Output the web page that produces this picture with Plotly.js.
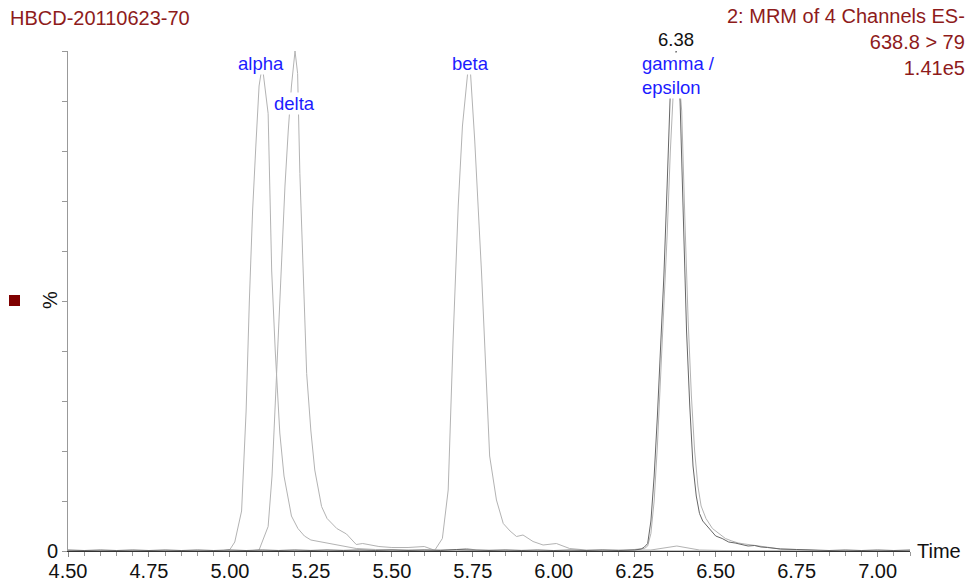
<!DOCTYPE html>
<html>
<head>
<meta charset="utf-8">
<script src="https://cdn.plot.ly/plotly-3.0.1.min.js"></script>
<style>html,body{margin:0;padding:0;background:#fff;}#chart{width:974px;height:581px;}</style>
</head>
<body>
<div id="chart"></div>
<script>
// ---- data (retention time in min, relative intensity in %) ----
var sampleTime = [4.50,4.55,4.60,4.65,4.70,4.75,4.80,4.85,4.90,4.95,5.00,5.05,5.10,5.15,5.20,5.25,5.30,5.35,5.40,5.45,5.50,5.55,5.60,5.65,5.70,5.75,5.80,5.85,5.90,5.95,6.00,6.05,6.10,6.15,6.20,6.25,6.27,6.28,6.29,6.30,6.31,6.32,6.33,6.34,6.35,6.36,6.37,6.378,6.39,6.40,6.41,6.42,6.43,6.44,6.45,6.46,6.48,6.50,6.52,6.54,6.56,6.58,6.60,6.62,6.64,6.66,6.70,6.75,6.80,6.85,6.90,6.95,7.00,7.05,7.10];
var samplePct  = [0.2,0.1,0.2,0.1,0.2,0.1,0.2,0.1,0.2,0.1,0.2,0.1,0.2,0.1,0.2,0.1,0.2,0.1,0.2,0.1,0.2,0.1,0.2,0.1,0.3,0.2,0.1,0.2,0.1,0.2,0.1,0.2,0.1,0.2,0.1,0.2,0.4,0.8,1.5,6,15,27,40,55,73,92,98,100,90,66,44,29,17,11,7.5,6,4.5,3,2.5,1.8,1.6,1.3,1.0,1.1,0.8,0.7,0.4,0.3,0.2,0.1,0.2,0.1,0.2,0.1,0.2];

var alphaTime = [4.50,4.90,4.98,5.00,5.015,5.036,5.05,5.06,5.07,5.08,5.09,5.096,5.103,5.118,5.129,5.14,5.154,5.167,5.18,5.19,5.21,5.23,5.25,5.30,5.35,5.39,5.45,5.50,5.60,5.70,5.73,5.76,5.90,6.20,7.10];
var alphaPct  = [0,0,0.1,0.3,1.8,8,28,50,68,81,93,95.5,95.5,87.5,56,40,23.6,15,10,7,4.5,3,2.2,1.6,1.0,0.5,0.3,0.2,0.1,0.3,0.5,0.2,0.1,0,0];

var deltaTime = [4.50,5.05,5.09,5.118,5.13,5.14,5.15,5.16,5.17,5.18,5.19,5.201,5.209,5.216,5.226,5.237,5.25,5.262,5.283,5.30,5.33,5.36,5.39,5.41,5.46,5.50,5.55,5.60,5.63,5.80,7.10];
var deltaPct  = [0,0,0.2,4.9,15,30,46,60,73,84,93,100,95.5,75.5,55,35.5,24,16.2,8.9,6.5,4.5,3.4,1.3,1.5,0.9,0.7,0.7,0.9,0.2,0,0];

var betaTime = [4.50,5.50,5.60,5.633,5.656,5.674,5.689,5.705,5.718,5.734,5.743,5.756,5.777,5.790,5.802,5.823,5.844,5.865,5.885,5.905,5.936,5.967,6.008,6.049,6.10,6.30,6.38,6.45,6.60,7.10];
var betaPct  = [0,0.1,0.2,0.2,2.5,12.2,42,69,85,95.5,95.5,82,55.6,37,19,10.2,5.5,4,2.9,3.2,1.9,1.2,1.5,0.5,0.2,0.2,1.0,0.2,0,0];

var gammaTime = [4.50,6.20,6.28,6.29,6.30,6.31,6.32,6.33,6.34,6.35,6.36,6.37,6.383,6.395,6.405,6.415,6.425,6.435,6.445,6.455,6.47,6.49,6.51,6.53,6.55,6.57,6.59,6.61,6.63,6.65,6.67,6.70,6.75,6.80,6.85,7.10];
var gammaPct  = [0,0,0.5,1,3.5,10,21,34,48,63,80,93,98,88,66,46,31,20,13,9,6.5,4.5,3.5,2.5,2.0,1.6,1.4,1.2,1.0,0.9,0.6,0.4,0.3,0.1,0,0];

var xTickVals = [4.50,4.75,5.00,5.25,5.50,5.75,6.00,6.25,6.50,6.75,7.00];
var xTickText = ['4.50','4.75','5.00','5.25','5.50','5.75','6.00','6.25','6.50','6.75','7.00'];
var yTickVals = [0,10,20,30,40,50,60,70,80,90,100];
var yTickText = ['0','','','','','','','','','',''];

// peak labels
var peakNames = ['alpha','delta','beta','gamma /<br>epsilon'];
var peakLabelTime = [5.096,5.200,5.744,6.269];
var peakLabelPct = [97.6,89.6,97.6,95.2];
var apexLabel = '6.38';
var apexTime = 6.377;

// ---- layout helpers (plot area in pixels) ----
var L = 68, T = 51, W = 842, H = 500;
function px(x){ return (x - L) / W; }
function py(y){ return (T + H - y) / H; }

var grey = '#b3b3b3';
var traces = [
  {x: alphaTime, y: alphaPct, mode:'lines', line:{color:grey, width:1}},
  {x: deltaTime, y: deltaPct, mode:'lines', line:{color:grey, width:1}},
  {x: betaTime,  y: betaPct,  mode:'lines', line:{color:grey, width:1}},
  {x: gammaTime, y: gammaPct, mode:'lines', line:{color:grey, width:1}},
  {x: sampleTime, y: samplePct, mode:'lines', line:{color:'#666666', width:1}}
];

var font = 'Liberation Sans, Arial, sans-serif';
var darkRed = '#8e1b1b';
var blue = '#1c1cff';

var annotations = [
  {xref:'paper', yref:'paper', x:px(8), y:py(18), xanchor:'left', yanchor:'middle', showarrow:false,
   text:'HBCD-20110623-70', font:{family:font, size:20, color:darkRed}},
  {xref:'paper', yref:'paper', x:px(967), y:py(42), xanchor:'right', yanchor:'middle', showarrow:false, align:'right',
   text:'2: MRM of 4 Channels ES-<br>638.8 &gt; 79<br>1.41e5', font:{family:font, size:20, color:darkRed}},
  {xref:'paper', yref:'paper', x:px(915), y:py(551), xanchor:'left', yanchor:'middle', showarrow:false,
   text:'Time', font:{family:font, size:20, color:'#111'}},
  {xref:'paper', yref:'paper', x:px(50), y:py(300), xanchor:'center', yanchor:'middle', showarrow:false, textangle:-90,
   text:'%', font:{family:font, size:20, color:'#111'}},
  {xref:'x', yref:'paper', x:apexTime, y:py(40), xanchor:'center', yanchor:'middle', showarrow:false,
   text:apexLabel, font:{family:font, size:18.5, color:'#111'}}
];
for (var i = 0; i < peakNames.length; i++) {
  var last = (i === peakNames.length - 1);
  annotations.push({xref:'x', yref:'y', x:peakLabelTime[i], y:peakLabelPct[i],
    xanchor: last ? 'left' : 'center', yanchor:'middle', align: last ? 'left' : 'center',
    showarrow:false, bgcolor:'#ffffff', borderpad:0,
    text:peakNames[i], font:{family:font, size:18.5, color:blue}});
}

var layout = {
  width:974, height:581,
  margin:{l:L, r:974-L-W, t:T, b:581-T-H, pad:0},
  paper_bgcolor:'#fff', plot_bgcolor:'#fff',
  showlegend:false, hovermode:false,
  font:{family:font, size:20, color:'#111'},
  xaxis:{range:[4.5,7.1], tickmode:'array', tickvals:xTickVals, ticktext:xTickText,
    ticks:'outside', ticklen:5, tickcolor:'#888', tickwidth:1, ticklabelstandoff:-3,
    minor:{dtick:0.05, tick0:4.5, ticks:'outside', ticklen:4, tickcolor:'#999', tickwidth:1},
    showline:true, linecolor:'#333', linewidth:1, showgrid:false, zeroline:false,
    tickfont:{family:font, size:20, color:'#111'}},
  yaxis:{range:[0,100], tickmode:'array', tickvals:yTickVals, ticktext:yTickText,
    ticks:'outside', ticklen:5, tickcolor:'#999', tickwidth:1,
    showline:true, linecolor:'#999', linewidth:1, showgrid:false, zeroline:false,
    tickfont:{family:font, size:20, color:'#111'}},
  shapes:[
    {type:'rect', xref:'paper', yref:'paper', x0:px(9), x1:px(20), y0:py(306), y1:py(295),
     fillcolor:'#7f0000', line:{width:0}}
  ],
  annotations:annotations
};

Plotly.newPlot('chart', traces, layout, {displayModeBar:false, staticPlot:true});
</script>
</body>
</html>
